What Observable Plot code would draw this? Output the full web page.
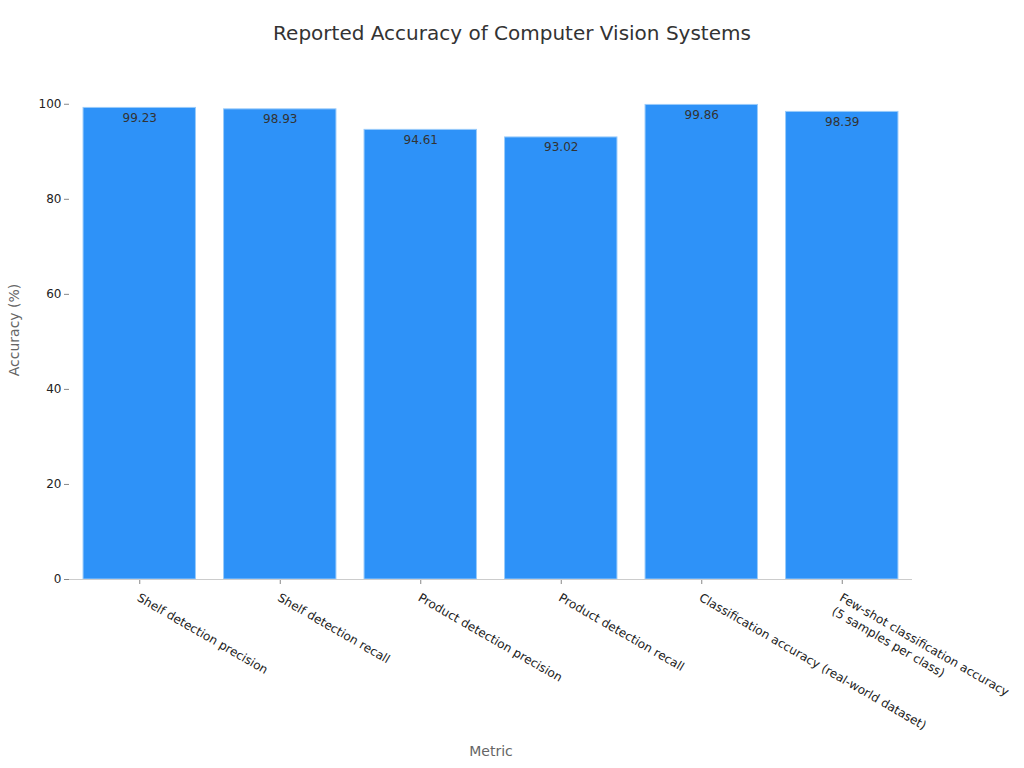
<!DOCTYPE html>
<html>
<head>
<meta charset="utf-8">
<script src="https://cdn.jsdelivr.net/npm/d3@7"></script>
<script src="https://cdn.jsdelivr.net/npm/@observablehq/plot@0.6"></script>
<style>
  body { margin: 0; background: #fff; font-family: "DejaVu Sans", sans-serif; }
  #wrap { position: relative; width: 1024px; height: 768px; }
  #title { position: absolute; top: 21px; left: 0; width: 1024px; text-align: center;
           font-size: 20px; color: #333; font-family: "DejaVu Sans", sans-serif; }
</style>
</head>
<body>
<div id="wrap">
  <div id="title">Reported Accuracy of Computer Vision Systems</div>
  <div id="chart"></div>
</div>
<script>
const metrics = [
  "Shelf detection precision",
  "Shelf detection recall",
  "Product detection precision",
  "Product detection recall",
  "Classification accuracy (real-world dataset)",
  "Few-shot classification accuracy\n(5 samples per class)"
];
const accuracy = [99.23, 98.93, 94.61, 93.02, 99.86, 98.39];
const yTicks = [0, 20, 40, 60, 80, 100];

const data = metrics.map((m, i) => ({metric: m, value: accuracy[i]}));

const chart = Plot.plot({
  width: 1024,
  height: 768,
  marginTop: 80,
  marginLeft: 69,
  marginRight: 112,
  marginBottom: 189,
  style: {fontFamily: "DejaVu Sans, sans-serif", fontSize: "12px", color: "#333", background: "transparent"},
  x: {domain: metrics, paddingInner: 0.2, paddingOuter: 0.1, round: false, label: null},
  y: {domain: [0, 105], label: null},
  marks: [
    Plot.barY(data, {x: "metric", y: "value", fill: "#2E92F8", stroke: "#9ACBFA", strokeWidth: 1}),
    Plot.text(data, {x: "metric", y: "value", text: d => d.value.toFixed(2), dy: 10, fill: "#333", fontSize: 12}),
    Plot.ruleX([0], {frameAnchor: "left", stroke: "#ccc"}),
    Plot.axisY({ticks: yTicks, tickSize: 5, stroke: "#888", fill: "#222", fontSize: 12, label: null, tickPadding: 3}),
    Plot.axisX({tickSize: 5, stroke: "#888", tickFormat: () => "", label: null}),
    Plot.axisX({tickSize: 0, fill: "#222", fontSize: 12, tickRotate: 30, textAnchor: "start", lineAnchor: "top", lineHeight: 1.3, tickPadding: 11, dx: 2, label: null}),
    Plot.ruleY([0], {stroke: "#ccc"}),
    Plot.text(["Metric"], {frameAnchor: "bottom", dy: 176, fill: "#666", fontSize: 14}),
    Plot.text(["Accuracy (%)"], {frameAnchor: "left", textAnchor: "middle", dx: -55, rotate: -90, fill: "#666", fontSize: 14})
  ]
});
document.getElementById("chart").appendChild(chart);
</script>
</body>
</html>
